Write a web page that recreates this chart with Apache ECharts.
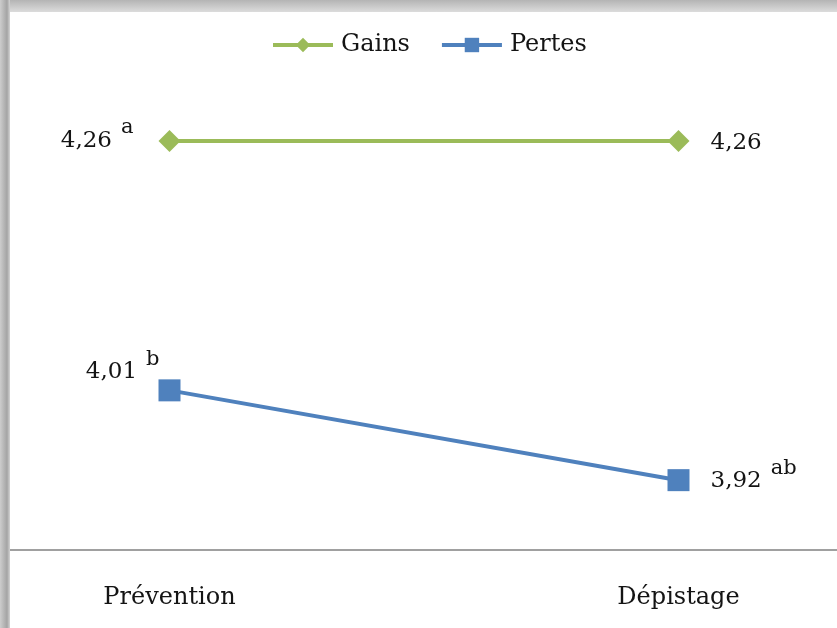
<!DOCTYPE html>
<html>
<head>
<meta charset="utf-8">
<script src="https://cdn.jsdelivr.net/npm/echarts@6/dist/echarts.min.js"></script>
<style>
  html, body { margin: 0; padding: 0; background: #fff; }
  #chart { width: 837px; height: 628px; }
</style>
</head>
<body>
<div id="chart"></div>
<script>
// Mean scores per message framing
var categories = ['Prévention', 'Dépistage'];
var gains = [4.26, 4.26];
var pertes = [4.01, 3.92];
// Significance letters shown as superscripts next to the values
var gainsLetters = ['a', ''];
var pertesLetters = ['b', 'ab'];

var FONT = 'DejaVu Serif';
var TEXT = '#141414';

function fmt(v) { return v.toFixed(2).replace('.', ','); }

var richStyles = {
  v: { fontFamily: FONT, fontSize: 23, color: TEXT },
  s: { fontFamily: FONT, fontSize: 21, color: TEXT, padding: [0, 0, 26, 9] }
};

// label placement for each point: [series][index]
var labelPlacement = {
  gains: [
    { position: 'left', distance: 25, offset: [0, 0] },
    { position: 'right', distance: 21, offset: [0, 2] }
  ],
  pertes: [
    { position: 'left', distance: -1, offset: [0, -18] },
    { position: 'right', distance: 21, offset: [0, 1] }
  ]
};

function buildData(values, letters, placement) {
  return values.map(function (v, i) {
    var sup = letters[i];
    return {
      value: v,
      label: {
        show: true,
        position: placement[i].position,
        distance: placement[i].distance,
        offset: placement[i].offset,
        formatter: '{v|' + fmt(v) + '}' + (sup ? '{s|' + sup + '}' : ''),
        rich: richStyles
      }
    };
  });
}

var chart = echarts.init(document.getElementById('chart'));
chart.setOption({
  backgroundColor: '#ffffff',
  animation: false,
  legend: {
    top: 28,
    left: 266,
    itemWidth: 60,
    itemHeight: 18,
    itemGap: 30,
    lineStyle: { width: 4 },
    textStyle: { fontFamily: FONT, fontSize: 24, color: TEXT, padding: [0, 0, 0, 3] },
    data: ['Gains', 'Pertes']
  },
  grid: {
    left: -85,
    right: -96,
    top: 101,
    bottom: 78,
    outerBoundsMode: 'none'
  },
  xAxis: {
    type: 'category',
    data: categories,
    boundaryGap: true,
    axisLine: { show: true, lineStyle: { color: '#a0a0a0', width: 2 } },
    axisTick: { show: false },
    axisLabel: { fontFamily: FONT, fontSize: 24, color: TEXT, margin: 36 },
    splitLine: { show: false }
  },
  yAxis: {
    type: 'value',
    min: 3.85,
    max: 4.3,
    show: false
  },
  series: [
    {
      name: 'Gains',
      type: 'line',
      data: buildData(gains, gainsLetters, labelPlacement.gains),
      symbol: 'diamond',
      symbolSize: 22,
      lineStyle: { color: '#9BBB59', width: 4 },
      itemStyle: { color: '#9BBB59' }
    },
    {
      name: 'Pertes',
      type: 'line',
      data: buildData(pertes, pertesLetters, labelPlacement.pertes),
      symbol: 'rect',
      symbolSize: 22,
      lineStyle: { color: '#4F81BD', width: 4 },
      itemStyle: { color: '#4F81BD' }
    }
  ],
  graphic: [
    {
      type: 'rect',
      z: 100,
      shape: { x: 0, y: 0, width: 837, height: 12 },
      style: {
        fill: new echarts.graphic.LinearGradient(0, 0, 0, 1, [
          { offset: 0, color: '#b4b4b4' },
          { offset: 1, color: '#dcdcdc' }
        ])
      }
    },
    {
      type: 'rect',
      z: 101,
      shape: { x: 0, y: 0, width: 10, height: 628 },
      style: {
        fill: new echarts.graphic.LinearGradient(0, 0, 1, 0, [
          { offset: 0, color: '#cdcdcd' },
          { offset: 0.7, color: '#a4a4a4' },
          { offset: 1, color: '#d4d4d4' }
        ])
      }
    }
  ]
});
</script>
</body>
</html>
